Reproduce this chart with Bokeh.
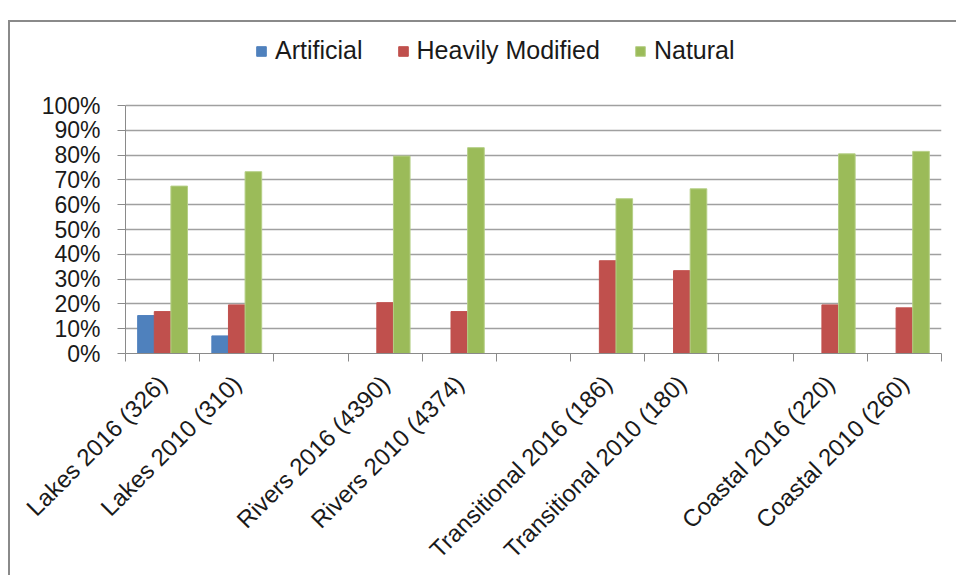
import math
from bokeh.plotting import figure
from bokeh.models import (ColumnDataSource, FixedTicker, NumeralTickFormatter,
                          Range1d, Legend, LegendItem)
from bokeh.embed import file_html
from bokeh.resources import INLINE

categories = ["Lakes 2016 (326)", "Lakes 2010 (310)", "",
              "Rivers 2016 (4390)", "Rivers 2010 (4374)", "",
              "Transitional 2016 (186)", "Transitional 2010 (180)", "",
              "Coastal 2016 (220)", "Coastal 2010 (260)"]
artificial = [0.153, 0.071, 0, 0, 0, 0, 0, 0, 0, 0, 0]
heavily_modified = [0.169, 0.196, 0, 0.205, 0.169, 0, 0.374, 0.334, 0, 0.196, 0.184]
natural = [0.675, 0.733, 0, 0.796, 0.830, 0, 0.624, 0.664, 0, 0.805, 0.815]
series_names = ["Artificial", "Heavily Modified", "Natural"]
y_ticks = [0, 0.1, 0.2, 0.3, 0.4, 0.5, 0.6, 0.7, 0.8, 0.9, 1.0]

colors = ["#4F81BD", "#C0504D", "#9BBB59"]
edge = ["#4F81BD", "#C0504D", "#b5cf86"]
FONT = "Liberation Sans"

n = len(categories)
PLOT_H = 248          # pixel height of the 0..100% band
FRAME_H = 331         # frame also holds the legend above the 100% line
p = figure(frame_width=816, frame_height=FRAME_H, output_backend="svg",
           toolbar_location=None,
           x_range=Range1d(0, n), y_range=Range1d(0, FRAME_H / PLOT_H),
           min_border_left=115, min_border_right=15, min_border_top=0,
           min_border_bottom=0)
p.styles = {"border-left": "2px solid #8a8a8a", "border-top": "2px solid #8a8a8a",
            "margin-top": "20px", "margin-left": "8px"}

bw = 0.224
offsets = [-bw, 0.0, bw]
renderers = []
for vals, off, c, ec in zip([artificial, heavily_modified, natural], offsets, colors, edge):
    xs = [i + 0.5 + off for i, v in enumerate(vals) if v > 0]
    ys = [v for v in vals if v > 0]
    src = ColumnDataSource(dict(x=xs, top=ys))
    r = p.vbar(x="x", top="top", width=bw, bottom=0, source=src,
               fill_color=c, line_color=ec, line_width=1)
    renderers.append(r)

# axes
centers = [i + 0.5 for i in range(n)]
bounds = [float(i) for i in range(n + 1)]
p.xaxis.ticker = FixedTicker(ticks=centers, minor_ticks=bounds)
p.xaxis.major_label_overrides = {c: lab for c, lab in zip(centers, categories)}
p.xaxis.major_label_orientation = math.pi / 4
p.xaxis.major_tick_out = 0
p.xaxis.major_tick_in = 0
p.xaxis.minor_tick_out = 8
p.xaxis.minor_tick_in = 0
p.xaxis.minor_tick_line_color = "#8a8a8a"
p.xaxis.axis_line_color = "#8a8a8a"
p.xaxis.major_label_standoff = 18
p.xaxis.major_label_text_font = FONT
p.xaxis.major_label_text_font_size = "24px"
p.xaxis.major_label_text_color = "#1a1a1a"

p.yaxis.ticker = FixedTicker(ticks=y_ticks)
p.yaxis.bounds = (0, 1)
p.yaxis.formatter = NumeralTickFormatter(format="0%")
p.yaxis.major_tick_out = 8
p.yaxis.major_tick_in = 0
p.yaxis.minor_tick_line_color = None
p.yaxis.major_tick_line_color = "#8a8a8a"
p.yaxis.axis_line_color = "#8a8a8a"
p.yaxis.major_label_standoff = 17
p.yaxis.major_label_text_font = FONT
p.yaxis.major_label_text_font_size = "23px"
p.yaxis.major_label_text_color = "#1a1a1a"

p.xgrid.grid_line_color = None
p.ygrid.grid_line_color = "#a0a0a0"
p.ygrid.grid_line_width = 1.5
p.ygrid.ticker = FixedTicker(ticks=y_ticks)
p.outline_line_color = None

legend = Legend(items=[LegendItem(label=nm, renderers=[r]) for nm, r in zip(series_names, renderers)],
                orientation="horizontal", location=(130, 288),
                border_line_color=None, background_fill_alpha=0,
                padding=0, margin=0, spacing=34, label_standoff=8,
                glyph_width=12, glyph_height=12,
                label_text_font=FONT, label_text_font_size="25px",
                label_text_color="#1a1a1a")
p.add_layout(legend)

open("out.html", "w").write(file_html(p, INLINE))
